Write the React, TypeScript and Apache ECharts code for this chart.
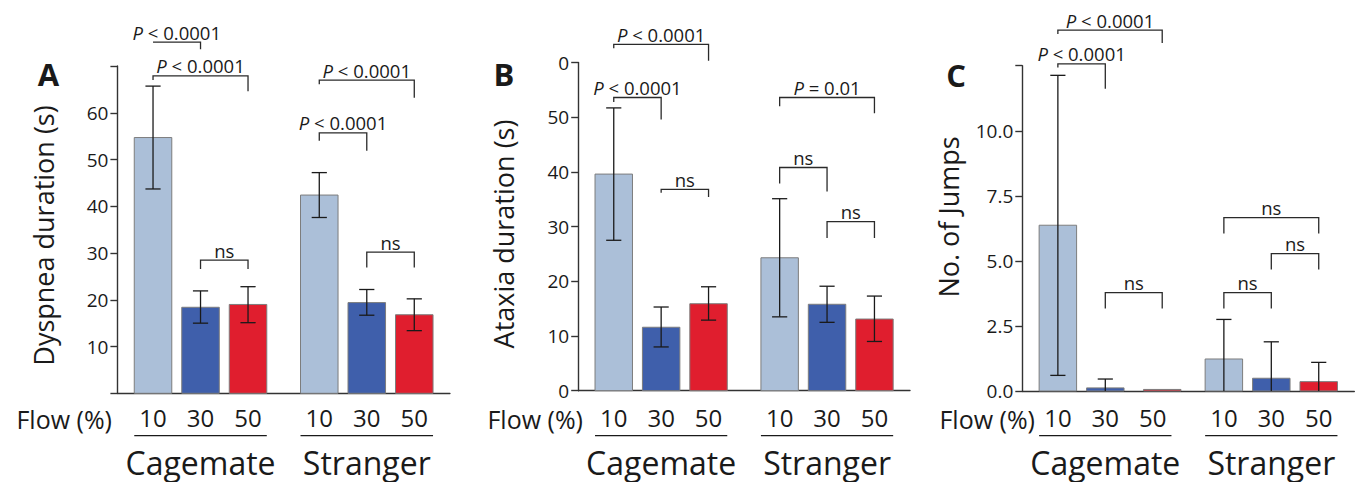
import React, { useEffect, useRef } from "react";
import * as echarts from "echarts";

const FONT = "'Open Sans', 'Noto Sans', sans-serif";
const TEXT = "#1a1a1a";
const AXIS = "#333333";
const BAR_COLORS = ["#abbfd8", "#3f5fab", "#e01e2e"];

const flowLabels = ["10", "30", "50", "10", "30", "50"];
const labelPositions = [0, 1, 2, 3.5, 4.5, 5.5];
const groupLabels = ["Cagemate", "Stranger"];
const groupRanges = [
  [0, 2, 1],
  [3.5, 5.5, 4.5],
];

// Panel A – Dyspnea duration (s)
const dyspneaPos = [0, 1, 2, 3.5, 4.5, 5.5];
const dyspneaMean = [54.7, 18.4, 19.0, 42.4, 19.4, 16.8];
const dyspneaLow = [43.7, 15.0, 15.1, 37.6, 16.7, 13.4];
const dyspneaHigh = [65.7, 21.9, 22.8, 47.2, 22.2, 20.2];
const dyspneaTicks = ["", "10", "20", "30", "40", "50", "60", ""];
const dyspneaBrackets = [
  [0, 1, 75.1, 75.1, 73.6],
  [0, 2, 67.9, 67.0, 64.6],
  [1, 2, 28.5, 26.6, 26.6],
  [3, 5, 67.0, 66.1, 63.2],
  [3, 4, 55.7, 54.0, 51.9],
  [4, 5, 30.2, 26.9, 26.9],
];
const dyspneaBracketLabels = ["P < 0.0001", "P < 0.0001", "ns", "P < 0.0001", "P < 0.0001", "ns"];

// Panel B – Ataxia duration (s)
const ataxiaPos = [0, 1, 2, 3.5, 4.5, 5.5];
const ataxiaMean = [39.6, 11.6, 15.9, 24.3, 15.8, 13.1];
const ataxiaLow = [27.5, 8.0, 12.9, 13.5, 12.5, 9.0];
const ataxiaHigh = [51.7, 15.3, 19.0, 35.1, 19.1, 17.3];
const ataxiaTicks = ["0", "10", "20", "30", "40", "50", "0"];
const ataxiaBrackets = [
  [0, 2, 63.3, 62.6, 60.3],
  [0, 1, 53.6, 52.8, 49.6],
  [1, 2, 36.8, 36.2, 35.4],
  [3, 5, 53.6, 52.0, 50.7],
  [3, 4, 40.8, 37.9, 36.4],
  [4, 5, 30.9, 27.9, 27.9],
];
const ataxiaBracketLabels = ["P < 0.0001", "P < 0.0001", "ns", "P = 0.01", "ns", "ns"];

// Panel C – No. of Jumps
const jumpsPos = [0, 1, 2.2, 3.5, 4.5, 5.5];
const jumpsMean = [6.37, 0.12, 0.06, 1.23, 0.49, 0.36];
const jumpsLow = [0.6, 0, null, 0, 0, 0];
const jumpsHigh = [12.13, 0.46, null, 2.75, 1.89, 1.1];
const jumpsTicks = ["0.0", "2.5", "5.0", "7.5", "10.0", ""];
const jumpsBrackets = [
  [0, 2, 13.87, 13.72, 13.37],
  [0, 1, 12.57, 12.43, 11.61],
  [1, 2, 3.78, 3.17, 3.17],
  [3, 5, 6.66, 6.05, 6.05],
  [4, 5, 5.28, 4.67, 4.67],
  [3, 4, 3.78, 3.17, 3.17],
];
const jumpsBracketLabels = ["P < 0.0001", "P < 0.0001", "ns", "ns", "ns", "ns"];

const BAR_HALF = 0.395;
const CAP_HALF = 0.16;
const FLOW_Y = 417;
const UNDERLINE_Y = 435.7;
const GROUP_Y = 462;

const richLabel = (s: string) => (s.startsWith("P") ? "{i|P}" + s.slice(1) : s);

function panelSeries(
  g: number,
  pos: number[],
  mean: number[],
  low: (number | null)[],
  high: (number | null)[],
  brackets: number[][],
  bracketLabels: string[]
) {
  const bars = {
    type: "custom",
    xAxisIndex: g,
    yAxisIndex: g,
    data: mean.map((m, i) => [pos[i], m]),
    renderItem: (params: any, api: any) => {
      const x = api.value(0);
      const y = api.value(1);
      const p0 = api.coord([x - BAR_HALF, y]);
      const p1 = api.coord([x + BAR_HALF, 0]);
      return {
        type: "rect",
        shape: { x: p0[0], y: p0[1], width: p1[0] - p0[0], height: p1[1] - p0[1] },
        style: { fill: BAR_COLORS[params.dataIndex % 3], stroke: "#7d7d7d", lineWidth: 1 },
      };
    },
  };
  const errData: number[][] = [];
  mean.forEach((_, i) => {
    if (high[i] != null && low[i] != null) errData.push([pos[i], low[i] as number, high[i] as number]);
  });
  const errors = {
    type: "custom",
    xAxisIndex: g,
    yAxisIndex: g,
    data: errData,
    renderItem: (params: any, api: any) => {
      const x = api.value(0);
      const lo = api.value(1);
      const hi = api.value(2);
      const a = api.coord([x, lo]);
      const b = api.coord([x, hi]);
      const cl = api.coord([x - CAP_HALF, hi]);
      const cr = api.coord([x + CAP_HALF, hi]);
      const style = { stroke: "#1a1a1a", lineWidth: 1.3 };
      const children: any[] = [
        { type: "line", shape: { x1: a[0], y1: a[1], x2: b[0], y2: b[1] }, style },
        { type: "line", shape: { x1: cl[0], y1: cl[1], x2: cr[0], y2: cr[1] }, style },
      ];
      if (lo > 0) {
        const ll = api.coord([x - CAP_HALF, lo]);
        const lr = api.coord([x + CAP_HALF, lo]);
        children.push({ type: "line", shape: { x1: ll[0], y1: ll[1], x2: lr[0], y2: lr[1] }, style });
      }
      return { type: "group", children };
    },
  };
  const bracketSeries = {
    type: "custom",
    xAxisIndex: g,
    yAxisIndex: g,
    data: brackets.map((b) => [pos[b[0]], pos[b[1]], b[2], b[3], b[4]]),
    renderItem: (params: any, api: any) => {
      const x1 = api.value(0);
      const x2 = api.value(1);
      const yl = api.value(2);
      const ya = api.value(3);
      const yb = api.value(4);
      const p1 = api.coord([x1, ya]);
      const p2 = api.coord([x1, yl]);
      const p3 = api.coord([x2, yl]);
      const p4 = api.coord([x2, yb]);
      const label = bracketLabels[params.dataIndex];
      return {
        type: "group",
        children: [
          {
            type: "polyline",
            shape: { points: [p1, p2, p3, p4] },
            style: { stroke: "#2a2a2a", lineWidth: 1.3, fill: "none" },
          },
          {
            type: "text",
            x: (p2[0] + p3[0]) / 2,
            y: p2[1] - 0.5,
            style: {
              text: richLabel(label),
              fontFamily: FONT,
              fontSize: 18.5,
              fill: TEXT,
              align: "center",
              verticalAlign: "bottom",
              rich: { i: { fontFamily: FONT, fontSize: 18.5, fontStyle: "italic", fill: TEXT } },
            },
          },
        ],
      };
    },
  };
  const flowSeries = {
    type: "custom",
    xAxisIndex: g,
    yAxisIndex: g,
    data: labelPositions.map((p) => [p, 0]),
    renderItem: (params: any, api: any) => {
      const c = api.coord([api.value(0), 0]);
      return {
        type: "text",
        x: c[0],
        y: FLOW_Y,
        style: {
          text: flowLabels[params.dataIndex],
          fontFamily: FONT,
          fontSize: 24,
          fill: TEXT,
          align: "center",
          verticalAlign: "middle",
        },
      };
    },
  };
  const groupSeries = {
    type: "custom",
    xAxisIndex: g,
    yAxisIndex: g,
    data: groupRanges.map((r) => [r[0], r[1], r[2], 0]),
    renderItem: (params: any, api: any) => {
      const a = api.coord([api.value(0) - BAR_HALF, 0]);
      const b = api.coord([api.value(1) + BAR_HALF, 0]);
      const c = api.coord([api.value(2), 0]);
      return {
        type: "group",
        children: [
          {
            type: "line",
            shape: { x1: a[0], y1: UNDERLINE_Y, x2: b[0], y2: UNDERLINE_Y },
            style: { stroke: "#1a1a1a", lineWidth: 1.3 },
          },
          {
            type: "text",
            x: c[0],
            y: GROUP_Y,
            style: {
              text: groupLabels[params.dataIndex],
              fontFamily: FONT,
              fontSize: 32,
              fill: TEXT,
              align: "center",
              verticalAlign: "middle",
            },
          },
        ],
      };
    },
  };
  return [bars, errors, bracketSeries, flowSeries, groupSeries];
}

function yAxis(g: number, max: number, interval: number, ticks: string[]) {
  return {
    type: "value",
    gridIndex: g,
    min: 0,
    max,
    interval,
    splitLine: { show: false },
    axisLine: { show: true, onZero: false, lineStyle: { color: AXIS, width: 1.4 } },
    axisTick: { show: true, inside: false, length: 7, lineStyle: { color: AXIS, width: 1.4 } },
    axisLabel: {
      margin: 9,
      fontFamily: FONT,
      fontSize: 19,
      color: TEXT,
      formatter: (_v: number, i: number) => ticks[i] ?? "",
    },
  };
}

function xAxis(g: number) {
  return {
    type: "value",
    gridIndex: g,
    min: -0.75,
    max: 6.25,
    splitLine: { show: false },
    axisTick: { show: false },
    axisLabel: { show: false },
    axisLine: { show: true, onZero: false, lineStyle: { color: AXIS, width: 1.4 } },
  };
}

function txt(x: number, y: number, text: string, fontSize: number, extra: any = {}) {
  return {
    type: "text",
    x,
    y,
    ...extra,
    style: {
      text,
      fontFamily: FONT,
      fontSize,
      fill: TEXT,
      align: "center",
      verticalAlign: "middle",
      ...(extra.style || {}),
    },
  };
}

export default function App() {
  const ref = useRef<HTMLDivElement>(null);
  useEffect(() => {
    if (!ref.current) return;
    const chart = echarts.init(ref.current, undefined, { renderer: "svg" });
    chart.setOption({
      animation: false,
      backgroundColor: "#ffffff",
      grid: [
        { left: 117.4, top: 66, width: 332.5, height: 327.3 },
        { left: 578.2, top: 62.5, width: 331.8, height: 328.2 },
        { left: 1022.3, top: 65.7, width: 332, height: 325.3 },
      ],
      xAxis: [xAxis(0), xAxis(1), xAxis(2)],
      yAxis: [yAxis(0, 70, 10, dyspneaTicks), yAxis(1, 60, 10, ataxiaTicks), yAxis(2, 12.5, 2.5, jumpsTicks)],
      series: [
        ...panelSeries(0, dyspneaPos, dyspneaMean, dyspneaLow, dyspneaHigh, dyspneaBrackets, dyspneaBracketLabels),
        ...panelSeries(1, ataxiaPos, ataxiaMean, ataxiaLow, ataxiaHigh, ataxiaBrackets, ataxiaBracketLabels),
        ...panelSeries(2, jumpsPos, jumpsMean, jumpsLow, jumpsHigh, jumpsBrackets, jumpsBracketLabels),
      ],
      graphic: [
        txt(48.5, 74, "A", 31, { style: { fontWeight: "bold" } }),
        txt(504, 74, "B", 31, { style: { fontWeight: "bold" } }),
        txt(956, 75, "C", 31, { style: { fontWeight: "bold" } }),
        txt(43, 235.5, "Dyspnea duration (s)", 27, { rotation: Math.PI / 2 }),
        txt(503, 234, "Ataxia duration (s)", 27, { rotation: Math.PI / 2 }),
        txt(948, 217, "No. of Jumps", 27, { rotation: Math.PI / 2 }),
        txt(112, 419, "Flow (%)", 25, { style: { align: "right" } }),
        txt(583, 419, "Flow (%)", 25, { style: { align: "right" } }),
        txt(1035, 419, "Flow (%)", 25, { style: { align: "right" } }),
      ],
    });
    return () => chart.dispose();
  }, []);
  return (
    <div
      ref={ref}
      style={{ position: "fixed", left: 0, top: 0, width: 1355, height: 482, background: "#fff" }}
    />
  );
}
